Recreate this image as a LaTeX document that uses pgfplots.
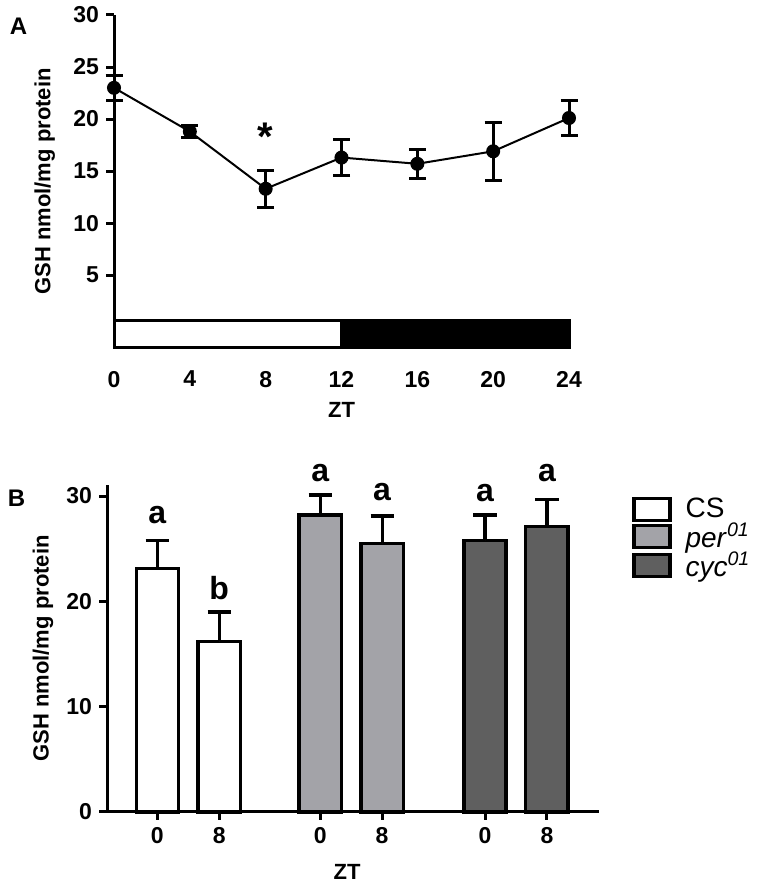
\documentclass[border=0pt]{standalone}
\usepackage{pgfplots}
\pgfplotsset{compat=1.18}
\usepackage{fontspec}
\setmainfont{Liberation Sans}
\definecolor{pergray}{HTML}{A3A3A8}
\definecolor{cycgray}{HTML}{5F5F5F}
\pgfplotsset{barleg/.style={legend image code/.code={\draw[##1, line width=1.6pt] (0pt,-5.5pt) rectangle (18pt,5.5pt);}}}
\begin{document}
\begin{tikzpicture}
\useasboundingbox (0,0) rectangle (380.5pt,446pt);
\node[font=\bfseries\fontsize{12}{14}\selectfont] at (9.25pt,433pt) {A};
\node[font=\bfseries\fontsize{12}{14}\selectfont] at (8.25pt,196.75pt) {B};
% Panel A
\begin{axis}[
  at={(57pt,272pt)}, anchor=south west,
  scale only axis, width=227.5pt, height=166.5pt,
  xmin=0, xmax=24, ymin=-2, ymax=30,
  axis lines*=left,
  axis line style={line width=1.5pt},
  xtick={0,4,...,24}, ytick={5,10,...,30},
  x tick style={draw=none},
  y tick style={line width=1.5pt, black},
  tick align=outside, major tick length=4pt,
  /pgf/number format/assume math mode=true,
  tick label style={font=\bfseries\fontsize{11.5}{12}\selectfont},
  xticklabel shift=4pt,
  xlabel={ZT}, ylabel={GSH nmol/mg protein},
  label style={font=\bfseries\fontsize{11}{13}\selectfont},
  xlabel style={at={(axis description cs:0.5,-0.186)}, anchor=center},
  ylabel style={at={(axis description cs:-0.152,0.5)}, anchor=center},
  clip=false,
]
\addplot[fill=white, draw=black, line width=1.5pt] coordinates {(0,-2) (12,-2) (12,0.67) (0,0.67)} --cycle;
\addplot[fill=black, draw=black, line width=1.5pt] coordinates {(12,-2) (24,-2) (24,0.67) (12,0.67)} --cycle;
\addplot[black, line width=1pt, mark=*, mark size=3pt, mark options={fill=black},
  error bars/.cd, y dir=both, y explicit,
  error bar style={line width=1.5pt},
  error mark options={rotate=90, mark size=4.25pt, line width=1.5pt}]
 coordinates {
 (0,23.0) +- (0,1.2)
 (4,18.8) +- (0,0.6)
 (8,13.3) +- (0,1.8)
 (12,16.3) +- (0,1.7)
 (16,15.7) +- (0,1.4)
 (20,16.9) +- (0,2.8)
 (24,20.1) +- (0,1.7)
 };
\node[font=\bfseries\fontsize{20}{20}\selectfont] at (axis cs:8,18.3) {*};
\end{axis}
% Panel B
\begin{axis}[
  at={(53.5pt,40pt)}, anchor=south west,
  scale only axis, width=246pt, height=163.5pt,
  xmin=-0.81, xmax=7.13, ymin=0, ymax=31.05,
  axis lines*=left,
  axis line style={line width=1.5pt},
  xtick={0,1,2.63,3.63,5.29,6.29}, xticklabels={0,8,0,8,0,8},
  ytick={0,10,20,30},
  tick align=outside, major tick length=4pt,
  tick style={line width=1.5pt, black},
  /pgf/number format/assume math mode=true,
  tick label style={font=\bfseries\fontsize{11.5}{12}\selectfont},
  xlabel={ZT}, ylabel={GSH nmol/mg protein},
  label style={font=\bfseries\fontsize{11}{13}\selectfont},
  xlabel style={at={(axis description cs:0.488,-0.183)}, anchor=center},
  ylabel style={at={(axis description cs:-0.130,0.5)}, anchor=center},
  ybar, bar width=0.68, bar shift=0pt,
  clip=false,
  legend style={draw=none, fill=none, at={(axis description cs:1.067,0.965)}, anchor=north west,
    inner sep=0pt, row sep=0pt, font=\fontsize{14}{15}\selectfont,
    nodes={inner xsep=7pt, inner ysep=0.5pt}},
  legend cell align=left,
]
\addplot[fill=white, draw=black, line width=1.6pt, barleg,
  error bars/.cd, y dir=plus, y explicit,
  error bar style={line width=1.6pt},
  error mark options={rotate=90, mark size=5.8pt, line width=1.6pt}]
 coordinates {(0,23.1) +- (0,2.7) (1,16.2) +- (0,2.8)};
\addlegendentry{CS}
\addplot[fill=pergray, draw=black, line width=1.6pt, barleg,
  error bars/.cd, y dir=plus, y explicit,
  error bar style={line width=1.6pt},
  error mark options={rotate=90, mark size=5.8pt, line width=1.6pt}]
 coordinates {(2.63,28.2) +- (0,1.9) (3.63,25.5) +- (0,2.6)};
\addlegendentry{\textit{per}\textsuperscript{\textit{01}}}
\addplot[fill=cycgray, draw=black, line width=1.6pt, barleg,
  error bars/.cd, y dir=plus, y explicit,
  error bar style={line width=1.6pt},
  error mark options={rotate=90, mark size=5.8pt, line width=1.6pt}]
 coordinates {(5.29,25.8) +- (0,2.4) (6.29,27.1) +- (0,2.6)};
\addlegendentry{\textit{cyc}\textsuperscript{\textit{01}}}
\node[font=\bfseries\fontsize{16}{16}\selectfont] at (axis cs:0,28.2) {a};
\node[font=\bfseries\fontsize{16}{16}\selectfont] at (axis cs:1,21.3) {b};
\node[font=\bfseries\fontsize{16}{16}\selectfont] at (axis cs:2.63,32.2) {a};
\node[font=\bfseries\fontsize{16}{16}\selectfont] at (axis cs:3.63,30.4) {a};
\node[font=\bfseries\fontsize{16}{16}\selectfont] at (axis cs:5.29,30.3) {a};
\node[font=\bfseries\fontsize{16}{16}\selectfont] at (axis cs:6.29,32.2) {a};
\end{axis}
\end{tikzpicture}
\end{document}
